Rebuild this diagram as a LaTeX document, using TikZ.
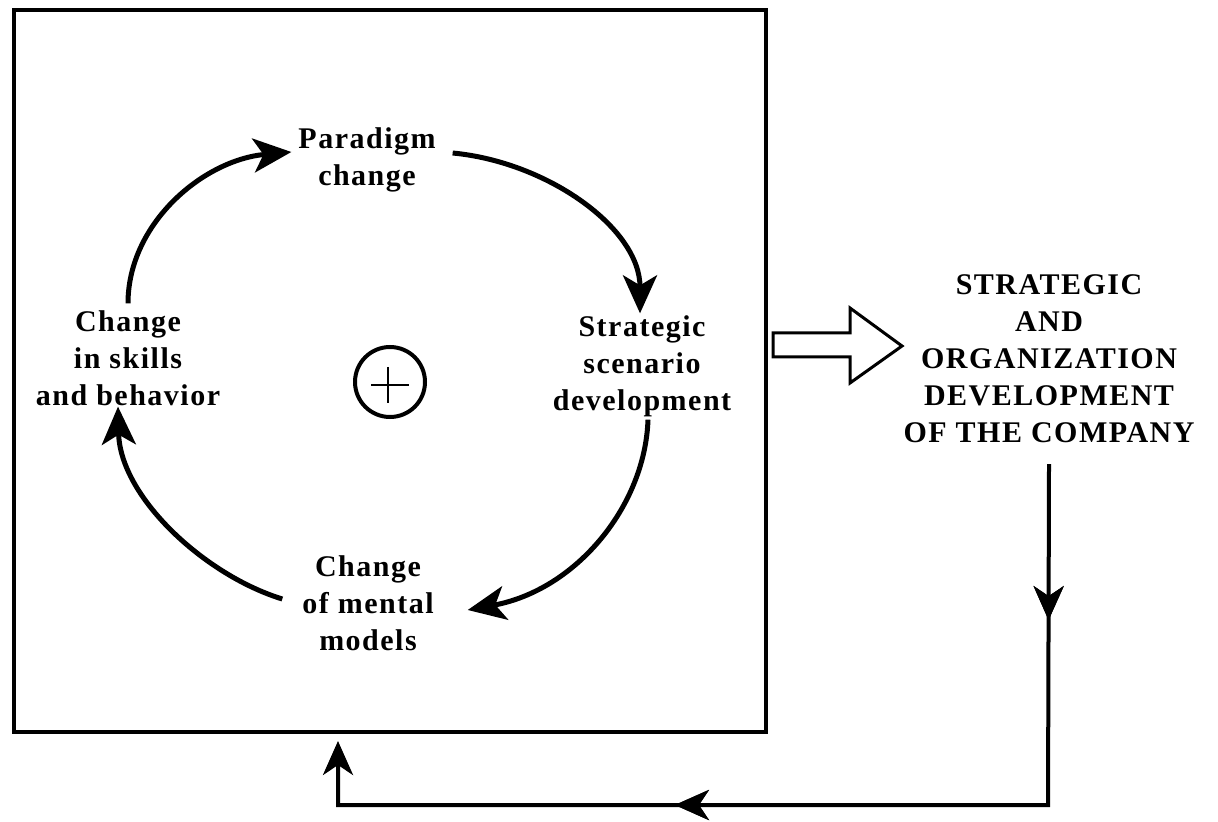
\documentclass[tikz,border=0pt]{standalone}
\usepackage{fontspec}
\setmainfont{Liberation Serif}[LetterSpace=5.0]
\usetikzlibrary{arrows.meta,decorations.markings}

\tikzset{
	phase/.style={font=\bfseries\fontsize{15}{18.5}\selectfont, align=center},
	cycarrow/.style={line width=2.5pt, -{Stealth[length=19pt,width=17pt,inset=5pt]}},
	feedback/.style={line width=2pt, -{Stealth[length=17pt,width=15pt,inset=5pt]}},
	midtip/.style={postaction={decorate}, decoration={markings,
		mark=at position #1 with {\arrow{Stealth[length=17pt,width=15pt,inset=5pt]}}}}
}

\begin{document}
\begin{tikzpicture}[x=0.5pt,y=-0.5pt]
	\useasboundingbox (0,0) rectangle (1218,822);
	% frame round the learning loop
	\node[draw, line width=2pt, inner sep=0, minimum width=376pt, minimum height=361pt] (box) at (390,371) {};
	% the four phases
	\node[phase] (paradigm) at (367,160) {Paradigm\\change};
	\node[phase] (strategic) at (642,366) {Strategic\\scenario\\development};
	\node[phase] (mental) at (368,603) {Change\\of mental\\models};
	\node[phase] (skills) at (128,358) {Change\\in skills\\and behavior};
	\node[draw, circle, line width=2pt, inner sep=0, minimum size=35pt] (plus) at (390,382) {};
		\draw[line width=1pt] (plus.center) ++(-19,3) -- ++(38,0);
		\draw[line width=1pt] (plus.center) ++(-2,-15) -- ++(0,36);
	% loop
	\draw[cycarrow] (skills.north) .. controls +(0,-80) and +(-88,8) .. ([shift={(0,-8)}]paradigm.west);
	\draw[cycarrow] ([shift={(10,-7)}]paradigm.east) .. controls +(95,9) and +(0,-85) .. ([shift={(-2,5)}]strategic.north);
	\draw[cycarrow] ([shift={(6,-4)}]strategic.south) .. controls +(-3,87) and +(108,-20) .. ([shift={(27,7)}]mental.east);
	\draw[cycarrow] ([shift={(-13,-4)}]mental.west) .. controls +(-78,-24) and +(2,90) .. ([shift={(-10,-6)}]skills.south);
	% outcome
	\node[phase] (company) at (1049,359) {STRATEGIC\\AND\\ORGANIZATION\\DEVELOPMENT\\OF THE COMPANY};
	\draw[line width=1.5pt, line join=miter] (773,333) -- (850,333) -- (850,308) -- (902,346) -- (850,383) -- (850,357) -- (773,357) -- cycle;
	% back into the frame
	\coordinate (br) at (1048,805);
	\coordinate (bl) at (338,805);
	\draw[feedback, midtip=78pt, midtip=357pt] ([shift={(0,14)}]company.south) -- (br) -- (bl) -- ([shift={(0,7)}]box.south -| bl);
\end{tikzpicture}
\end{document}
